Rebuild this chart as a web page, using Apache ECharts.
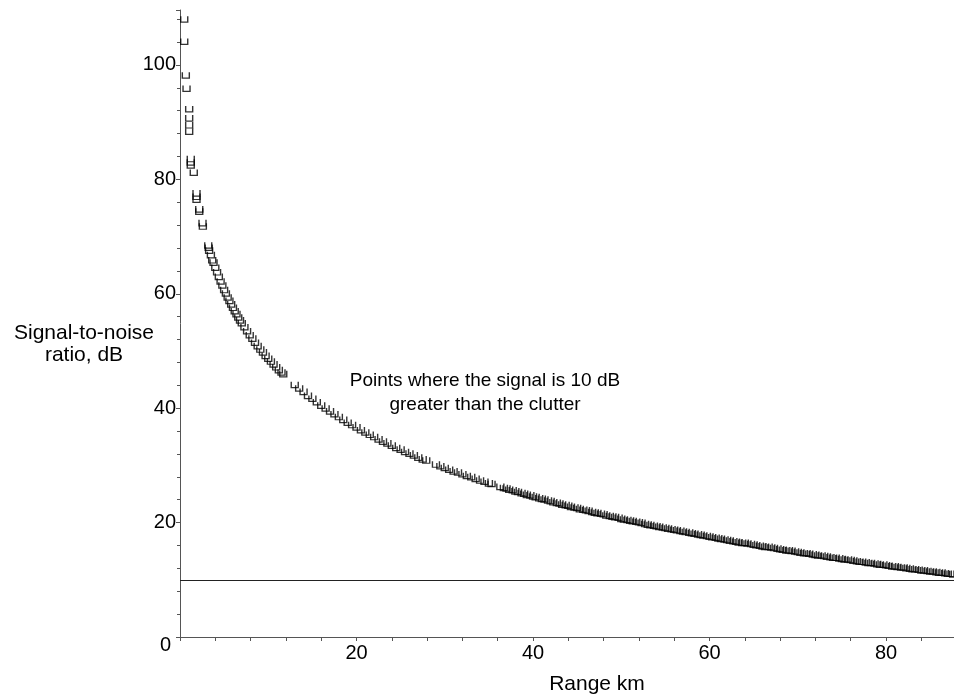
<!DOCTYPE html>
<html>
<head>
<meta charset="utf-8">
<script src="https://cdn.jsdelivr.net/npm/echarts@6/dist/echarts.min.js"></script>
<style>
  html, body { margin: 0; padding: 0; background: #fff; }
  #main { width: 954px; height: 698px; }
</style>
</head>
<body>
<div id="main"></div>
<script>
// points, range in km and SNR in dB
// near range, scattered boxes
var rangeNear = [0.48, 0.48, 0.66, 0.74, 1.04, 1.04, 1.04, 1.04, 1.22, 1.22, 1.22, 1.56,
  1.87, 1.87, 1.87, 2.18, 2.18, 2.55, 2.59, 3.2, 3.25, 3.3, 3.5, 3.65,
  3.8, 4.0, 4.2, 4.4, 4.6, 4.8, 5.0, 5.2, 5.4, 5.6, 5.8, 6.0, 6.2, 6.4, 6.6, 6.8, 7.0,
  7.3, 7.6, 7.9, 8.2, 8.5, 8.8, 9.1, 9.4, 9.7, 10.0, 10.3, 10.6, 10.9, 11.2, 11.5, 11.7];
var snrNear = [108.0, 104.1, 98.2, 95.9, 92.3, 90.7, 89.5, 88.4, 83.6, 83.0, 82.5, 81.2,
  77.6, 77.0, 76.5, 74.8, 74.4, 72.4, 71.8, 68.5, 68.1, 67.6, 66.8, 65.9,
  65.5, 64.6, 63.8, 63.0, 62.2, 61.5, 60.7, 60.1, 59.4, 58.8, 58.2, 57.6, 57.0, 56.5, 55.9, 55.4, 54.9,
  54.2, 53.5, 52.8, 52.2, 51.5, 50.9, 50.3, 49.8, 49.2, 48.7, 48.2, 47.7, 47.2, 46.7, 46.3, 46.0];

// 13 - 28 km
var rangeMid = [13.0, 13.5, 14.0, 14.5, 15.0, 15.5, 16.0, 16.5, 17.0, 17.5, 18.0, 18.5, 19.0, 19.5,
  20.0, 20.5, 21.0, 21.5, 22.0, 22.5, 23.0, 23.5, 24.0, 24.5, 25.0, 25.5, 26.0, 26.5, 27.0, 27.5, 27.9];
var snrMid = [44.1, 43.5, 42.9, 42.2, 41.7, 41.1, 40.5, 40.0, 39.5, 39.0, 38.5, 38.0, 37.5, 37.1,
  36.7, 36.2, 35.8, 35.4, 35.0, 34.6, 34.2, 33.9, 33.5, 33.1, 32.8, 32.4, 32.1, 31.8, 31.4, 31.1, 30.9];

// 29 - 35 km
var rangeFar = [29.0, 29.5, 30.0, 30.5, 31.0, 31.5, 32.0, 32.5, 33.0, 33.5, 34.0, 34.5, 35.0, 35.3];
var snrFar = [30.2, 29.9, 29.6, 29.3, 29.0, 28.8, 28.5, 28.2, 28.0, 27.7, 27.4, 27.2, 26.9, 26.8];

// 36 km onwards, dense band
var rangeTail = [36.3, 36.7,
  37, 37.3, 37.7, 38, 38.3, 38.7, 39, 39.3, 39.7, 40, 40.3, 40.7, 41, 41.3, 41.7,
  42, 42.3, 42.7, 43, 43.3, 43.7, 44, 44.3, 44.7, 45, 45.3, 45.7, 46, 46.3, 46.7,
  47, 47.3, 47.7, 48, 48.3, 48.7, 49, 49.3, 49.7, 50, 50.3, 50.7, 51, 51.3, 51.7,
  52, 52.3, 52.7, 53, 53.3, 53.7, 54, 54.3, 54.7, 55, 55.3, 55.7, 56, 56.3, 56.7,
  57, 57.3, 57.7, 58, 58.3, 58.7, 59, 59.3, 59.7, 60, 60.3, 60.7, 61, 61.3, 61.7,
  62, 62.3, 62.7, 63, 63.3, 63.7, 64, 64.3, 64.7, 65, 65.3, 65.7, 66, 66.3, 66.7,
  67, 67.3, 67.7, 68, 68.3, 68.7, 69, 69.3, 69.7, 70, 70.3, 70.7, 71, 71.3, 71.7,
  72, 72.3, 72.7, 73, 73.3, 73.7, 74, 74.3, 74.7, 75, 75.3, 75.7, 76, 76.3, 76.7,
  77, 77.3, 77.7, 78, 78.3, 78.7, 79, 79.3, 79.7, 80, 80.3, 80.7, 81, 81.3, 81.7,
  82, 82.3, 82.7, 83, 83.3, 83.7, 84, 84.3, 84.7, 85, 85.3, 85.7, 86, 86.3, 86.7,
  87, 87.3, 87.6];
var snrTail = [26.3, 26.1,
  26.0, 25.8, 25.7, 25.5, 25.4, 25.2, 25.1, 24.9, 24.8, 24.6, 24.5, 24.3, 24.2, 24.1, 23.9,
  23.8, 23.6, 23.5, 23.4, 23.2, 23.1, 23.0, 22.8, 22.7, 22.6, 22.4, 22.3, 22.2, 22.1, 21.9,
  21.8, 21.7, 21.6, 21.5, 21.3, 21.2, 21.1, 21.0, 20.9, 20.7, 20.6, 20.5, 20.4, 20.3, 20.2,
  20.1, 20.0, 19.8, 19.7, 19.6, 19.5, 19.4, 19.3, 19.2, 19.1, 19.0, 18.9, 18.8, 18.7, 18.6,
  18.5, 18.4, 18.3, 18.2, 18.1, 18.0, 17.9, 17.8, 17.7, 17.6, 17.5, 17.4, 17.3, 17.2, 17.1,
  17.0, 16.9, 16.8, 16.7, 16.6, 16.5, 16.5, 16.4, 16.3, 16.2, 16.1, 16.0, 15.9, 15.8, 15.8,
  15.7, 15.6, 15.5, 15.4, 15.3, 15.2, 15.2, 15.1, 15.0, 14.9, 14.8, 14.7, 14.7, 14.6, 14.5,
  14.4, 14.3, 14.3, 14.2, 14.1, 14.0, 13.9, 13.9, 13.8, 13.7, 13.6, 13.6, 13.5, 13.4, 13.3,
  13.2, 13.2, 13.1, 13.0, 13.0, 12.9, 12.8, 12.7, 12.7, 12.6, 12.5, 12.4, 12.4, 12.3, 12.2,
  12.2, 12.1, 12.0, 11.9, 11.9, 11.8, 11.7, 11.7, 11.6, 11.5, 11.5, 11.4, 11.3, 11.3, 11.2,
  11.1, 11.1, 11.0];

var clutterLevel = 10;
var xTickLabels = ['20', '40', '60', '80'];
var yTickLabels = ['0', '20', '40', '60', '80', '100'];

var fontFamily = '"Liberation Sans", Arial, sans-serif';

function pairUp(xs, ys) {
  var out = [];
  for (var i = 0; i < xs.length; i++) {
    out.push([xs[i], ys[i]]);
  }
  return out;
}

var points = []
  .concat(pairUp(rangeNear, snrNear))
  .concat(pairUp(rangeMid, snrMid))
  .concat(pairUp(rangeFar, snrFar))
  .concat(pairUp(rangeTail, snrTail));

var myChart = echarts.init(document.getElementById('main'), null, { renderer: 'canvas' });

var option = {
  animation: false,
  backgroundColor: '#fff',
  grid: { left: 180, right: 0, top: 10, bottom: 61 },
  xAxis: {
    type: 'value',
    min: 0,
    max: 87.7,
    interval: 20,
    splitLine: { show: false },
    axisLine: { lineStyle: { color: '#555', width: 1 } },
    axisTick: { show: true, length: 4, lineStyle: { color: '#555' } },
    minorTick: { show: true, splitNumber: 5, length: 4, lineStyle: { color: '#555' } },
    axisLabel: {
      margin: 6,
      color: '#000',
      fontSize: 20,
      fontFamily: fontFamily,
      showMaxLabel: false,
      formatter: function (v) {
        var s = String(v);
        return xTickLabels.indexOf(s) >= 0 ? s : '';
      }
    }
  },
  yAxis: {
    type: 'value',
    min: 0,
    max: 109.6,
    interval: 20,
    splitLine: { show: false },
    axisLine: { lineStyle: { color: '#555', width: 1 } },
    axisTick: { show: true, length: 4, lineStyle: { color: '#555' } },
    minorTick: { show: true, splitNumber: 5, length: 3, lineStyle: { color: '#555' } },
    axisLabel: {
      margin: 4,
      color: '#000',
      fontSize: 20,
      fontFamily: fontFamily,
      showMaxLabel: false,
      formatter: function (v) {
        var s = String(v);
        if (yTickLabels.indexOf(s) < 0) return '';
        return s === '0' ? '{z|0}' : s;
      },
      rich: {
        z: { fontSize: 20, fontFamily: fontFamily, color: '#000', padding: [16, 5, 0, 0] }
      }
    }
  },
  graphic: [
    {
      type: 'text',
      x: 84,
      y: 322,
      style: {
        text: 'Signal-to-noise\nratio, dB',
        align: 'center',
        font: '21px ' + fontFamily,
        lineHeight: 22,
        fill: '#000'
      }
    },
    {
      type: 'text',
      x: 485,
      y: 369,
      style: {
        text: 'Points where the signal is 10 dB\ngreater than the clutter',
        align: 'center',
        font: '19px ' + fontFamily,
        lineHeight: 24,
        fill: '#000'
      }
    },
    {
      type: 'text',
      x: 597,
      y: 674,
      style: {
        text: 'Range km',
        align: 'center',
        font: '21px ' + fontFamily,
        fill: '#000'
      }
    }
  ],
  series: [
    {
      type: 'scatter',
      data: points,
      symbol: 'path://M0,0L0,10L12,10L12,0',
      symbolSize: [7, 6],
      itemStyle: { color: 'rgba(0,0,0,0)', borderColor: '#000', borderWidth: 1.3 },
      emphasis: { disabled: true },
      markLine: {
        silent: true,
        symbol: ['none', 'none'],
        label: { show: false },
        lineStyle: { color: '#222', width: 1, type: 'solid' },
        data: [{ yAxis: clutterLevel }]
      }
    }
  ]
};

myChart.setOption(option);
</script>
</body>
</html>
